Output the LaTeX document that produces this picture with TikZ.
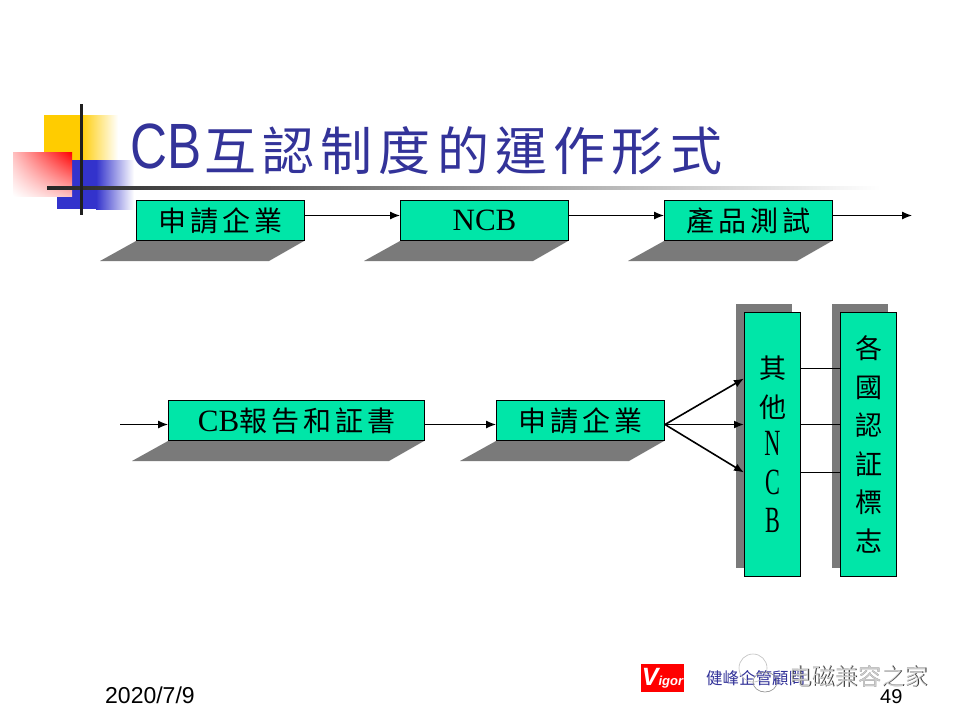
\documentclass[tikz,border=0pt]{standalone}
\usepackage{fontspec}
\setmainfont{Liberation Sans}
\newfontfamily\cjk{Noto Sans CJK TC}
\newfontfamily\cjkspaced[LetterSpace=14]{Noto Sans CJK TC}
\newfontfamily\cjktitle[LetterSpace=12]{Noto Sans CJK TC}
\newfontfamily\titlelatin[FakeStretch=0.8]{Liberation Sans}
\newfontfamily\serifl{Liberation Serif}
\newfontfamily\serifnarrow[FakeStretch=0.6]{Liberation Serif}
\newcommand{\NL}[1]{{\fontsize{37}{38.6}\selectfont\serifnarrow #1}}
\usetikzlibrary{calc,shadings,arrows.meta}
\definecolor{boxgreen}{HTML}{00E6A8}
\definecolor{shadowgray}{HTML}{7A7A7A}
\definecolor{titleblue}{HTML}{333399}
\definecolor{accyellow}{HTML}{FFCC00}
\definecolor{accblue}{HTML}{3333CC}
\tikzset{
  x=1pt,y=-1pt,
  flow/.style={draw=black,line width=1pt,fill=boxgreen,minimum width=168pt,minimum height=40pt,inner sep=0pt,anchor=north west,font=\fontsize{28}{30}\selectfont\cjkspaced},
  wideflow/.style={flow,minimum width=256pt},
  tallflow/.style={draw=black,line width=1pt,fill=boxgreen,minimum width=56pt,minimum height=264pt,inner sep=0pt,anchor=north west,align=center,font=\fontsize{27}{38.6}\selectfont\cjk},
  arrowline/.style={draw=black,line width=1.2pt,-{Latex[length=10pt,width=8pt]}},
  fanline/.style={arrowline,line width=1.6pt},
  plainline/.style={draw=black,line width=1pt},
}
\begin{document}
\begin{tikzpicture}
\useasboundingbox (0,0) rectangle (960,720);
\fill[white] (0,0) rectangle (960,720);
% decoration
\fill[accyellow] (44,115) rectangle (81,160);
\shade[left color=accyellow,right color=white,draw=none] (80,115) rectangle (118,160);
\fill[accblue] (57,160) rectangle (97,209);
\shade[left color=accblue,right color=white,draw=none] (96,160) rectangle (134,209);
\shade[lower left=white,upper right=red,lower right=red!25!white,upper left=red!25!white,draw=none] (13,196) rectangle (72,152);
\shade[left color=black!85,right color=white,draw=none] (47,186.5) rectangle (880,189.5);
\fill[black!88] (79.5,104) rectangle (82.5,215);
% title
\node[anchor=base west,inner sep=0pt,text=titleblue,font=\fontsize{64}{70}\selectfont\titlelatin] (titlecb) at (130,168) {CB};
\node[anchor=base west,inner sep=0pt,text=titleblue,font=\fontsize{52}{60}\selectfont\cjktitle] (titlezh) at (204,170) {互認制度的運作形式};
% shadows
\foreach \xa/\xb/\ya in {136/304/241,400/568/241,664/832/241,168/424/441,496/664/441}{
  \fill[shadowgray] (\xa,\ya) -- (\xb,\ya) -- (\xb-35,\ya+20) -- (\xa-36,\ya+20) -- cycle;
}
\fill[shadowgray] (736,304) rectangle (792,568);
\fill[shadowgray] (832,304) rectangle (888,568);
% boxes
\node[flow] (a1) at (136,200) {申請企業};
\node[flow,font=\fontsize{31}{32}\selectfont\serifl] (a2) at (400,200) {NCB};
\node[flow] (a3) at (664,200) {產品測試};
\coordinate (aend) at (912,215.5);
\node[wideflow] (b1) at (168,400) {{\fontsize{31}{32}\selectfont\serifl CB}報告和証書};
\node[flow] (b2) at (496,400) {申請企業};
\coordinate (bstart) at (120,424.5);
\node[tallflow] (c1) at (744,312) {其\\他\\\NL{N}\\\NL{C}\\\NL{B}};
\node[tallflow] (c2) at (840,312) {各\\國\\認\\証\\標\\志};
% connectors
\draw[arrowline] ([yshift=5pt]a1.east) -- ([yshift=5pt]a2.west);
\draw[arrowline] ([yshift=5pt]a2.east) -- ([yshift=5pt]a3.west);
\draw[arrowline] ([yshift=5pt]a3.east) -- (aend);
\draw[arrowline] (bstart) -- ([yshift=-4pt]b1.west);
\draw[arrowline] ([yshift=-4pt]b1.east) -- ([yshift=-4pt]b2.west);
\draw[fanline] ([yshift=-4pt]b2.east) -- ([yshift=66pt]c1.west);
\draw[fanline] ([yshift=-4pt]b2.east) -- ([yshift=20pt]c1.west);
\draw[fanline] ([yshift=-4pt]b2.east) -- ([yshift=-28pt]c1.west);
\draw[plainline] ([yshift=76pt]c1.east) -- ([yshift=76pt]c2.west);
\draw[plainline] ([yshift=20pt]c1.east) -- ([yshift=20pt]c2.west);
\draw[plainline] ([yshift=-28pt]c1.east) -- ([yshift=-28pt]c2.west);
% footer
\node[anchor=base west,inner sep=0pt,font=\fontsize{23}{24}\selectfont] (date) at (105,703) {2020/7/9};
\node[anchor=base west,inner sep=0pt,font=\fontsize{20}{24}\selectfont] (page) at (880,703) {49};
\node[fill=red,minimum width=43pt,minimum height=28pt,inner sep=0pt,text=white,font=\fontsize{13}{14}\selectfont\bfseries\itshape] (logo) at (662.5,678) {{\fontsize{25}{14}\selectfont V}igor};
\node[anchor=base west,inner sep=0pt,text=titleblue,font=\fontsize{16.5}{18}\selectfont\cjk] (cname) at (706,684) {健峰企管顧問};
\draw[black!25,line width=.6pt] (753,668) circle (14);
\draw[black!45,line width=.6pt] (765,682) ellipse (12 and 10);
\node[anchor=base west,inner sep=0pt,text=black!80,font=\fontsize{23.3}{26}\selectfont\cjk] (wm1) at (788.8,685.8) {电磁兼容之家};
\node[anchor=base west,inner sep=0pt,text=white,opacity=.75,font=\fontsize{23.3}{26}\selectfont\cjk] (wm2) at (788,685) {电磁兼容之家};
\end{tikzpicture}
\end{document}
